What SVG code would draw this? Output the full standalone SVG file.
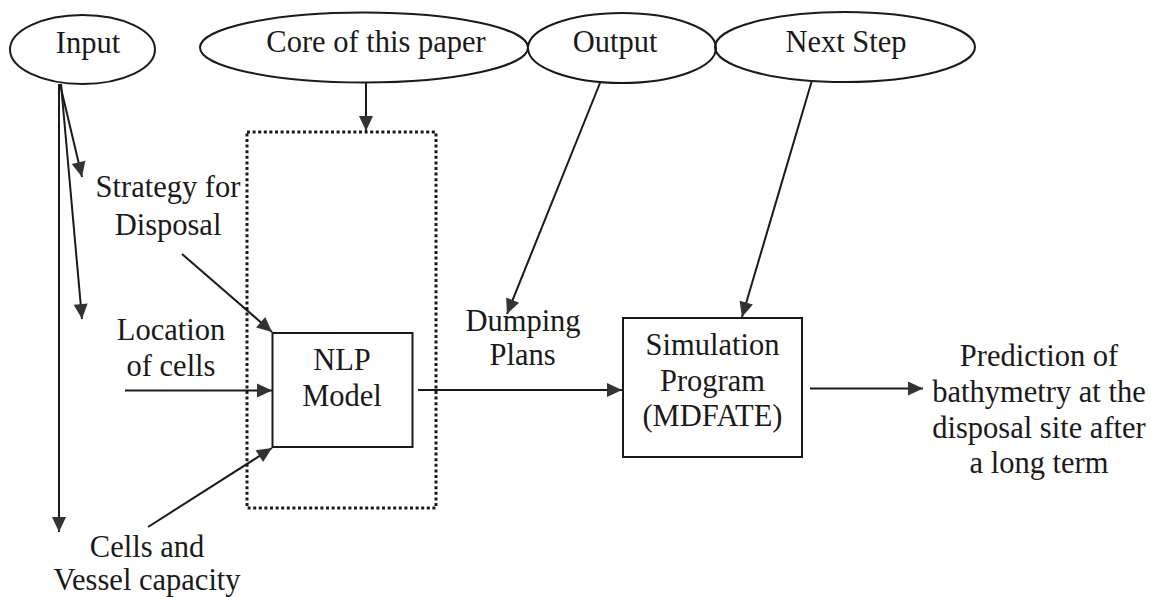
<svg xmlns="http://www.w3.org/2000/svg" width="1151" height="597" viewBox="0 0 1151 597">
  <style>
    .shape { fill: none; stroke: #1a1a1a; stroke-width: 2; }
    .dotted { fill: none; stroke: #1a1a1a; stroke-width: 3; stroke-dasharray: 3 2.6; }
    .edge { fill: none; stroke: #1a1a1a; stroke-width: 2; marker-end: url(#arrow); }
    text { font-family: 'Liberation Serif', 'Times New Roman', serif; font-size: 30.5px; fill: #1a1a1a; text-anchor: middle; }
  </style>
  <defs>
    <marker id="arrow" markerUnits="userSpaceOnUse" markerWidth="18" markerHeight="18" viewBox="0 0 18 18" refX="16" refY="9" orient="auto">
      <path d="M1,2 L16,9 L1,16 Z" fill="#333"/>
    </marker>
  </defs>
  <rect width="1151" height="597" fill="#ffffff"/>

  <!-- Top row of labels -->
  <g id="input">
    <ellipse class="shape" cx="82.5" cy="49.5" rx="72.5" ry="34.5"/>
    <text x="88" y="53">Input</text>
  </g>
  <g id="core">
    <ellipse class="shape" cx="364" cy="47.5" rx="164" ry="35"/>
    <text x="376" y="52">Core of this paper</text>
  </g>
  <g id="output">
    <ellipse class="shape" cx="622" cy="48" rx="94" ry="35"/>
    <text x="615" y="52">Output</text>
  </g>
  <g id="next-step">
    <ellipse class="shape" cx="845" cy="47" rx="130" ry="35"/>
    <text x="846" y="52">Next Step</text>
  </g>

  <!-- Scope of the model (dotted frame) -->
  <g id="core-frame">
    <rect class="dotted" x="247" y="132" width="189" height="376"/>
  </g>

  <!-- Processing boxes -->
  <g id="nlp-model">
    <rect class="shape" x="272.5" y="333" width="140" height="114" fill="#fff"/>
    <text x="342" y="370">NLP</text>
    <text x="342" y="406">Model</text>
  </g>
  <g id="simulation">
    <rect class="shape" x="623" y="318" width="179" height="139"/>
    <text x="712.5" y="355">Simulation</text>
    <text x="712.5" y="391">Program</text>
    <text x="712.5" y="426">(MDFATE)</text>
  </g>

  <!-- Data labels -->
  <g id="strategy">
    <text x="168" y="197">Strategy for</text>
    <text x="168" y="235">Disposal</text>
  </g>
  <g id="location">
    <text x="171" y="340">Location</text>
    <text x="171" y="376">of cells</text>
  </g>
  <g id="cells-vessel">
    <text x="147" y="557">Cells and</text>
    <text x="147" y="590">Vessel capacity</text>
  </g>
  <g id="dumping">
    <text x="523" y="331">Dumping</text>
    <text x="522.5" y="365">Plans</text>
  </g>
  <g id="prediction">
    <text x="1039" y="366">Prediction of</text>
    <text x="1039" y="402">bathymetry at the</text>
    <text x="1039" y="438">disposal site after</text>
    <text x="1039" y="473">a long term</text>
  </g>

  <!-- Connectors -->
  <g id="connectors">
    <line class="edge" x1="60" y1="84" x2="82" y2="177"/>
    <line class="edge" x1="61" y1="84" x2="82" y2="319"/>
    <line class="edge" x1="59" y1="84" x2="59" y2="532"/>
    <line class="edge" x1="366" y1="83" x2="366" y2="131"/>
    <line class="edge" x1="182" y1="254" x2="272" y2="332"/>
    <line class="edge" x1="125" y1="390.5" x2="272" y2="390.5"/>
    <line class="edge" x1="148" y1="527" x2="272" y2="448"/>
    <line class="edge" x1="418" y1="390" x2="622" y2="390"/>
    <line class="edge" x1="600" y1="83" x2="507" y2="314"/>
    <line class="edge" x1="811.5" y1="82" x2="742" y2="317"/>
    <line class="edge" x1="810" y1="388.5" x2="923" y2="388.5"/>
  </g>
</svg>
